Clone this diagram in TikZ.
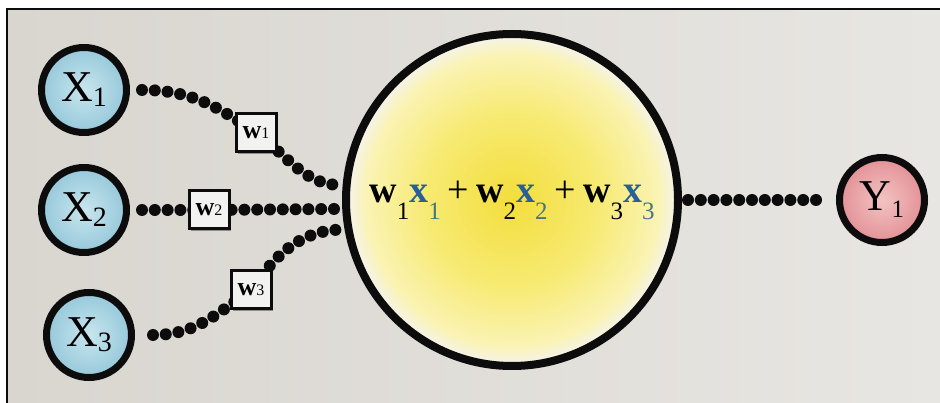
\documentclass[tikz,border=0pt]{standalone}
\usepackage{fontspec}
\setmainfont{Liberation Serif}
\usetikzlibrary{shadows}
\definecolor{bgL}{RGB}{217,214,208}
\definecolor{bgR}{RGB}{232,230,226}
\definecolor{ink}{RGB}{12,12,12}
\definecolor{xin}{RGB}{200,230,238}
\definecolor{xout}{RGB}{150,200,218}
\definecolor{yin}{RGB}{244,195,195}
\definecolor{yout}{RGB}{226,145,150}
\definecolor{sin}{RGB}{243,222,60}
\definecolor{smid}{RGB}{247,234,115}
\definecolor{sout}{RGB}{250,243,180}
\definecolor{sring}{RGB}{245,243,230}
\definecolor{boxfill}{RGB}{242,242,240}
\definecolor{eqx}{RGB}{40,95,150}
\definecolor{eqs}{RGB}{70,118,130}
\pgfdeclareradialshading{sunshade}{\pgfpoint{0bp}{0bp}}{color(0bp)=(sin); color(13bp)=(smid); color(22bp)=(sout); color(24.5bp)=(sring); color(50bp)=(sring)}
\newcommand\lowsub[3]{\raisebox{#1}{\fontsize{#2}{#2}\selectfont #3}}
\newcommand\eqplus{\hspace{7pt}+\hspace{7pt}}
\pgfdeclarelayer{back}
\pgfdeclarelayer{wires}
\pgfsetlayers{back,wires,main}
\tikzset{
  inp/.style={circle, draw=ink, line width=7pt, minimum size=85pt, inner sep=0pt,
    inner color=xin, outer color=xout, font=\fontsize{44}{44}\selectfont},
  outp/.style={circle, draw=ink, line width=7pt, minimum size=85pt, inner sep=0pt,
    inner color=yin, outer color=yout, font=\fontsize{44}{44}\selectfont},
  sumnode/.style={circle, draw=ink, line width=8pt, minimum size=332pt, inner sep=0pt,
    shading=sunshade, font=\fontsize{38}{38}\selectfont},
  wbox/.style={rectangle, draw=ink, line width=3pt, fill=boxfill, minimum width=40pt,
    minimum height=38pt, inner sep=0pt, font=\fontsize{26}{26}\selectfont,
    drop shadow={shadow xshift=2pt, shadow yshift=-2pt, opacity=0.35, fill=black}},
  beads/.style={draw=ink, line width=12pt, line cap=round, dash pattern=on 0pt off 12.8pt}
}
\begin{document}
\begin{tikzpicture}[x=1pt,y=1pt]
\useasboundingbox (0,0) rectangle (940,-403);
\begin{pgfonlayer}{back}
  \fill[white] (0,0) rectangle (940,-403);
  \shade[left color=bgL, right color=bgR] (7,-9) rectangle (940,-403);
  \draw[line width=2pt, ink] (7,-403) -- (7,-9) -- (940,-9);
\end{pgfonlayer}

\node[inp] (X1) at (84,-90) {X\lowsub{-5pt}{28}{1}};
\node[inp] (X2) at (84,-210) {X\lowsub{-5pt}{28}{2}};
\node[inp] (X3) at (89,-335) {X\lowsub{-5pt}{28}{3}};
\node[outp] (Y1) at (882,-200) {Y\lowsub{-7pt}{25}{1}};

\node[sumnode] (S) at (512,-200) {\textbf{w}\lowsub{-17pt}{25}{1}\textcolor{eqx}{\textbf{x}}\textcolor{eqs}{\lowsub{-17pt}{25}{1}}\eqplus\textbf{w}\lowsub{-17pt}{25}{2}\textcolor{eqx}{\textbf{x}}\textcolor{eqs}{\lowsub{-17pt}{25}{2}}\eqplus\textbf{w}\lowsub{-17pt}{25}{3}\textcolor{eqx}{\textbf{x}}\textcolor{eqs}{\lowsub{-17pt}{25}{3}}};

\node[wbox] (W1) at (256,-133) {\textbf{w}{\fontsize{16}{16}\selectfont 1}};
\node[wbox] (W2) at (209,-210) {\textbf{w}{\fontsize{16}{16}\selectfont 2}};
\node[wbox] (W3) at (251,-290) {\textbf{w}{\fontsize{16}{16}\selectfont 3}};

\begin{pgfonlayer}{wires}
  \draw[beads] ([xshift=12pt]X1.east) to[out=0,in=145] (W1.center) to[out=-35,in=180] (S.175);
  \draw[beads] ([xshift=12pt]X2.east) -- (W2.center) -- (S.183);
  \draw[beads] ([xshift=18pt]X3.east) to[out=0,in=215] (W3.center) to[out=55,in=180] (S.190);
  \draw[beads] ([xshift=6pt]S.east) -- ([xshift=-10pt]Y1.west);
\end{pgfonlayer}
\end{tikzpicture}
\end{document}
